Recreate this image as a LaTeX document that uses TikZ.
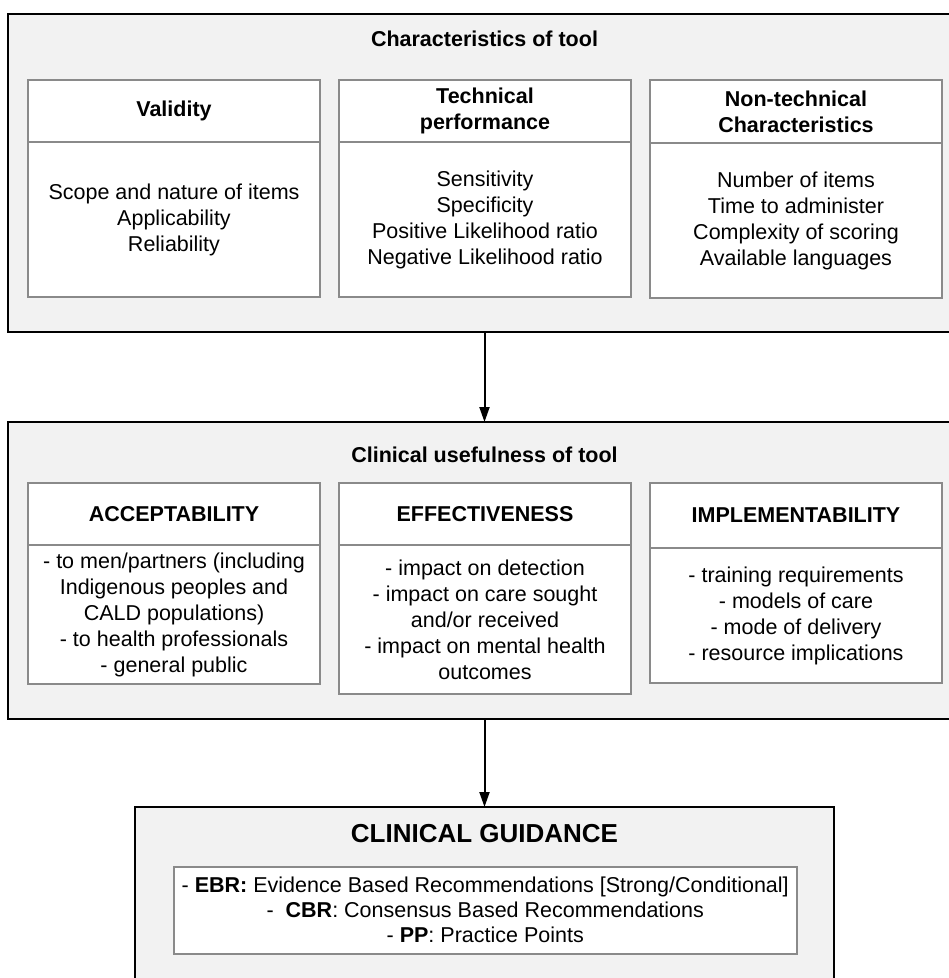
\documentclass[tikz,border=0pt]{standalone}
\usepackage{fontspec}
\setmainfont{Liberation Sans}
\usetikzlibrary{positioning, calc}
\usetikzlibrary{arrows.meta}

\definecolor{stagefill}{HTML}{F2F2F2}
\definecolor{panelline}{HTML}{8A8A8A}
\newcommand{\basefont}{\fontsize{21.5}{26}\selectfont}

\begin{document}
\begin{tikzpicture}[
    x=1pt, y=-1pt,
    % Define styles for the three stages
    stage/.style={rectangle, draw=black, line width=2pt, fill=stagefill, anchor=north west, inner sep=0pt, outer sep=0pt},
    stage_title/.style={inner sep=0pt, font=\basefont\bfseries},
    % Define styles for the panels inside a stage
    head/.style={rectangle, draw=panelline, line width=2pt, fill=white, anchor=north west, minimum width=292pt, inner sep=0pt, outer sep=0pt, align=center, font=\basefont\bfseries},
    body/.style={rectangle, draw=panelline, line width=2pt, fill=white, anchor=north west, minimum width=292pt, inner sep=0pt, outer sep=0pt, align=center, font=\basefont},
    % Define arrow style
    flow/.style={draw=black, line width=2pt, -{Triangle[length=15pt, width=10pt]}}
]

    % --- Page frame (the right side of the original is cut off) ---
    \useasboundingbox (0,0) rectangle (949,978);
    \clip (0,0) rectangle (949,978);

    % --- Helper Macro for Panels ---
    % Arguments: (name, left x, top y, divider y, bottom y, header, body)
    \newcommand{\panel}[7]{
        \node[head, minimum height={#4-#3}] (#1_h) at (#2,#3) {#6};
        \node[body, minimum height={#5-#4}] (#1_b) at (#2,#4) {#7};
    }

    % ================= STAGE 1 =================
    \node[stage, minimum width=953pt, minimum height=318pt] (S1) at (8,14) {};
    \node[stage_title] (S1_t) at ($(S1.north)+(0,25)$) {Characteristics of tool};

    \panel{P1}{28}{80}{142}{297}{Validity}
        {Scope and nature of items\\Applicability\\Reliability}
    \panel{P2}{339}{80}{142}{297}{Technical\\performance}
        {Sensitivity\\Specificity\\Positive Likelihood ratio\\Negative Likelihood ratio}
    \panel{P3}{650}{80}{143}{298}{Non-technical\\Characteristics}
        {Number of items\\Time to administer\\Complexity of scoring\\Available languages}

    % ================= STAGE 2 =================
    \node[stage, minimum width=953pt, minimum height=297pt] (S2) at (8,422) {};
    \node[stage_title] (S2_t) at ($(S2.north)+(0,33)$) {Clinical usefulness of tool};

    \panel{Q1}{28}{483}{545}{684}{ACCEPTABILITY}
        {- to men/partners (including\\Indigenous peoples and\\CALD populations)\\- to health professionals\\- general public}
    \panel{Q2}{339}{483}{545}{694}{EFFECTIVENESS}
        {- impact on detection\\- impact on care sought\\and/or received\\- impact on mental health\\outcomes}
    \panel{Q3}{650}{483}{548}{683}{IMPLEMENTABILITY}
        {- training requirements\\- models of care\\- mode of delivery\\- resource implications}

    % ================= STAGE 3 =================
    \node[stage, minimum width=699pt, minimum height=200pt] (S3) at (135,807) {};
    \node[stage_title, font=\fontsize{26}{30}\selectfont\bfseries] (S3_t) at ($(S3.north)+(0,27)$) {CLINICAL GUIDANCE};
    \node[rectangle, draw=panelline, line width=1.5pt, fill=white, anchor=north west,
          minimum width=623pt, minimum height=87pt, inner sep=0pt, align=center,
          font=\fontsize{21.5}{25}\selectfont] (G) at (173,866)
        {- \textbf{EBR:} Evidence Based Recommendations [Strong/Conditional]\\
         -\ \ \textbf{CBR}: Consensus Based Recommendations\\
         - \textbf{PP}: Practice Points};

    % --- Connect Stages ---
    \draw[flow] (S1.south) -- (S2.north);
    \draw[flow] (S2.south) -- (S3.north);

\end{tikzpicture}
\end{document}
